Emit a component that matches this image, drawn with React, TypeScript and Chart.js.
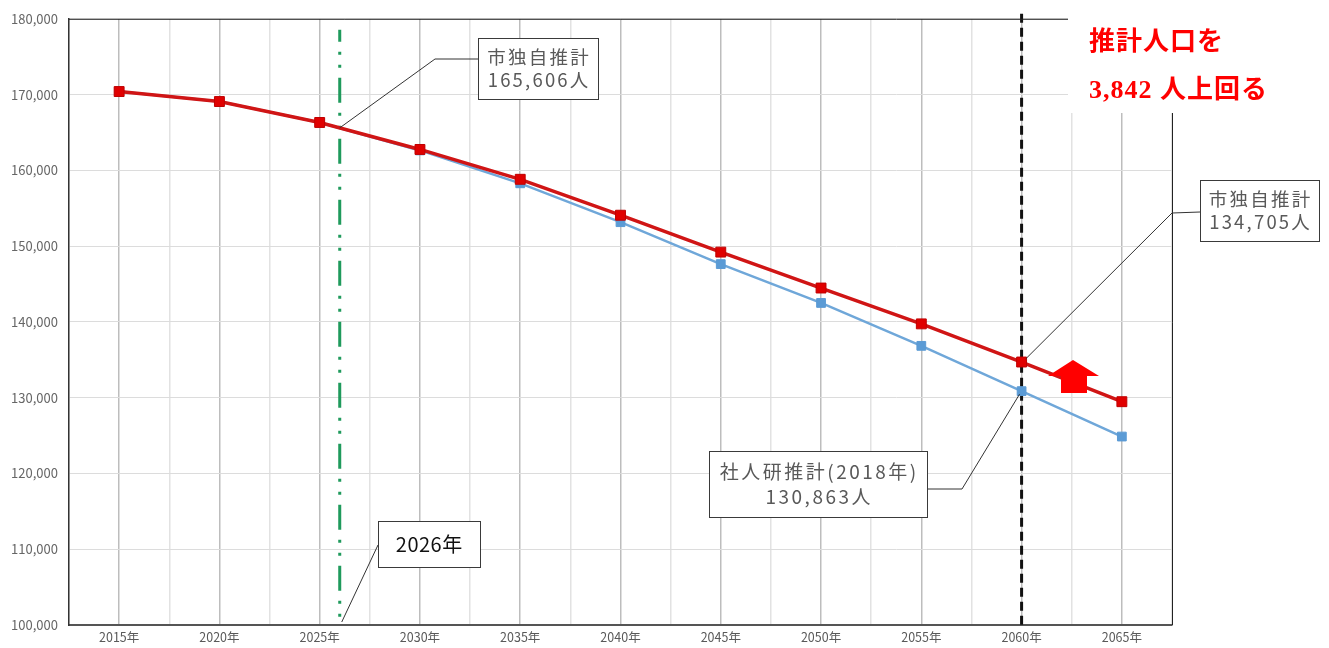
import React, { useEffect, useRef } from "react";
import { Chart, registerables } from "chart.js";

Chart.register(...registerables);

const years = [2015, 2020, 2025, 2030, 2035, 2040, 2045, 2050, 2055, 2060, 2065];
const cityEstimate = [170400, 169080, 166320, 162760, 158820, 154080, 149210, 144470, 139740, 134705, 129470];
const ipssEstimate = [170400, 169080, 166320, 162630, 158290, 153160, 147630, 142500, 136840, 130863, 124870];
const yMin = 100000;
const yMax = 180000;
const yStep = 10000;
const xMin = 2012.5;
const xMax = 2067.5;
const xStep = 2.5;
const markYear = 2026;
const markYearValue = 165606;
const targetYear = 2060;
const cityLabel = ["市独自推計", "165,606人"];
const cityLabel2 = ["市独自推計", "134,705人"];
const ipssLabel = ["社人研推計(2018年)", "130,863人"];
const yearLabel = "2026年";
const noteLines = ["推計人口を", "3,842 人上回る"];

const FONT = "'Noto Sans CJK JP', 'Noto Sans', sans-serif";

function drawBox(ctx: any, x: number, y: number, w: number, h: number, lines: string[], color: string, size: number, spacing: number) {
  ctx.save();
  ctx.fillStyle = "#ffffff";
  ctx.fillRect(x, y, w, h);
  ctx.strokeStyle = "#3a3a3a";
  ctx.lineWidth = 1;
  ctx.strokeRect(x + 0.5, y + 0.5, w, h);
  ctx.fillStyle = color;
  ctx.font = `${size}px ${FONT}`;
  ctx.letterSpacing = `${spacing}px`;
  ctx.textAlign = "center";
  ctx.textBaseline = "middle";
  const lh = h / lines.length;
  lines.forEach((l, i) => {
    const off = lines.length === 1 ? 0 : (i === 0 ? 4 : -4);
    ctx.fillText(l, x + w / 2 + spacing / 2, y + lh * (i + 0.5) + off);
  });
  ctx.restore();
}

function leader(ctx: CanvasRenderingContext2D, pts: [number, number][]) {
  ctx.save();
  ctx.strokeStyle = "#333333";
  ctx.lineWidth = 1;
  ctx.beginPath();
  pts.forEach((p, i) => (i === 0 ? ctx.moveTo(p[0], p[1]) : ctx.lineTo(p[0], p[1])));
  ctx.stroke();
  ctx.restore();
}

const decorPlugin = {
  id: "decor",
  beforeDatasetsDraw(chart: any) {
    const { ctx, chartArea, scales } = chart;
    const x = scales.x;
    ctx.save();
    const gx = x.getPixelForValue(markYear);
    ctx.strokeStyle = "#1f9a5c";
    ctx.lineWidth = 3;
    ctx.setLineDash([25, 10, 3, 10, 3, 10]);
    ctx.lineDashOffset = 13;
    ctx.beginPath();
    ctx.moveTo(gx, chartArea.top + 11);
    ctx.lineTo(gx, chartArea.bottom);
    ctx.stroke();
    const bx = x.getPixelForValue(targetYear);
    ctx.strokeStyle = "#111111";
    ctx.setLineDash([9, 5]);
    ctx.lineDashOffset = 0;
    ctx.beginPath();
    ctx.moveTo(bx, chartArea.top - 5);
    ctx.lineTo(bx, chartArea.bottom);
    ctx.stroke();
    ctx.restore();
  },
  afterDraw(chart: any) {
    const { ctx, chartArea, scales } = chart;
    const x = scales.x;
    const y = scales.y;
    ctx.save();
    ctx.strokeStyle = "#222222";
    ctx.lineWidth = 1;
    ctx.beginPath();
    ctx.moveTo(chartArea.left, chartArea.top + 0.5);
    ctx.lineTo(chartArea.right + 0.5, chartArea.top + 0.5);
    ctx.lineTo(chartArea.right + 0.5, chartArea.bottom);
    ctx.stroke();
    ctx.restore();

    ctx.save();
    ctx.fillStyle = "#ffffff";
    ctx.fillRect(1068, 0, 1329 - 1068, 113);
    ctx.fillStyle = "#ff0000";
    ctx.font = `bold 26px 'Liberation Serif', 'Noto Sans CJK JP', serif`;
    ctx.letterSpacing = "1px";
    ctx.textAlign = "left";
    ctx.textBaseline = "middle";
    ctx.fillText(noteLines[0], 1089, 43);
    ctx.fillText(noteLines[1], 1089, 91);
    ctx.restore();

    const gx = x.getPixelForValue(markYear);
    const gy = y.getPixelForValue(markYearValue);
    leader(ctx, [[gx, gy], [435, 59], [478, 59]]);
    drawBox(ctx, 478, 38, 120, 61, cityLabel, "#595959", 18.5, 2.2);

    leader(ctx, [[gx + 2, chartArea.bottom - 3], [378, 545]]);
    drawBox(ctx, 378, 521, 102, 46, [yearLabel], "#111111", 20, 0.5);

    const tx = x.getPixelForValue(targetYear);
    const cy = y.getPixelForValue(cityEstimate[years.indexOf(targetYear)]);
    leader(ctx, [[tx + 4, cy - 3], [1172, 213], [1200, 212]]);
    drawBox(ctx, 1200, 180, 119, 61, cityLabel2, "#595959", 18.5, 2.2);

    const iy = y.getPixelForValue(ipssEstimate[years.indexOf(targetYear)]);
    leader(ctx, [[tx - 2, iy + 3], [962, 489], [927, 489]]);
    drawBox(ctx, 709, 451, 218, 66, ipssLabel, "#595959", 19, 2.5);

    ctx.save();
    ctx.fillStyle = "#ff0000";
    ctx.beginPath();
    ctx.moveTo(1073, 360);
    ctx.lineTo(1099, 376);
    ctx.lineTo(1087, 376);
    ctx.lineTo(1087, 393);
    ctx.lineTo(1061, 393);
    ctx.lineTo(1061, 376);
    ctx.lineTo(1048, 376);
    ctx.closePath();
    ctx.fill();
    ctx.restore();
  },
};

export default function App() {
  const ref = useRef<HTMLCanvasElement | null>(null);
  useEffect(() => {
    document.body.style.margin = "0";
    if (!ref.current) return;
    const chart = new Chart(ref.current, {
      type: "line",
      data: {
        datasets: [
          {
            label: "市独自推計",
            data: years.map((yr, i) => ({ x: yr, y: cityEstimate[i] })),
            borderColor: "#d01515",
            backgroundColor: "#e00000",
            pointBorderColor: "#c00000",
            borderWidth: 3.5,
            pointStyle: "rect",
            pointRadius: 7,
            pointBorderWidth: 1,
            tension: 0,
          },
          {
            label: "社人研推計",
            data: years.map((yr, i) => ({ x: yr, y: ipssEstimate[i] })),
            borderColor: "#6fa7d9",
            backgroundColor: "#5b9bd5",
            pointBorderColor: "#5b9bd5",
            borderWidth: 2.5,
            pointStyle: "rect",
            pointRadius: 6.2,
            pointBorderWidth: 1,
            tension: 0,
          },
        ],
      },
      options: {
        responsive: false,
        animation: false,
        layout: { padding: { left: 0, top: 17, right: 157, bottom: 0 } },
        plugins: { legend: { display: false }, tooltip: { enabled: false } },
        scales: {
          x: {
            type: "linear",
            min: xMin,
            max: xMax,
            afterFit: (s: any) => { s.height = 23; },
            afterBuildTicks: (s: any) => {
              const t = [];
              for (let v = xMin; v <= xMax + 1e-6; v += xStep) t.push({ value: v });
              s.ticks = t;
            },
            ticks: {
              autoSkip: false,
              maxRotation: 0,
              padding: 5,
              color: "#595959",
              font: { size: 12.5, family: FONT },
              callback: (v: any) => (Math.abs(v % 5) < 1e-6 ? `${v}年` : ""),
            },
            grid: {
              drawTicks: false,
              color: (c: any) => (c.tick && Math.abs(c.tick.value % 5) < 1e-6 ? "#bdbdbd" : "#e2e2e2"),
              lineWidth: 1.5,
            },
            border: { color: "#555555", width: 2 },
          },
          y: {
            min: yMin,
            max: yMax,
            afterFit: (s: any) => { s.width = 69; },
            ticks: {
              stepSize: yStep,
              padding: 11,
              color: "#666666",
              font: { size: 13, family: FONT },
              callback: (v: any) => Number(v).toLocaleString("en-US"),
            },
            grid: { drawTicks: false, color: "#dcdcdc", lineWidth: 1 },
            border: { color: "#333333", width: 1.5 },
          },
        },
      },
      plugins: [decorPlugin],
    });
    return () => chart.destroy();
  }, []);
  return <canvas ref={ref} width={1329} height={648} style={{ display: "block" }} />;
}
